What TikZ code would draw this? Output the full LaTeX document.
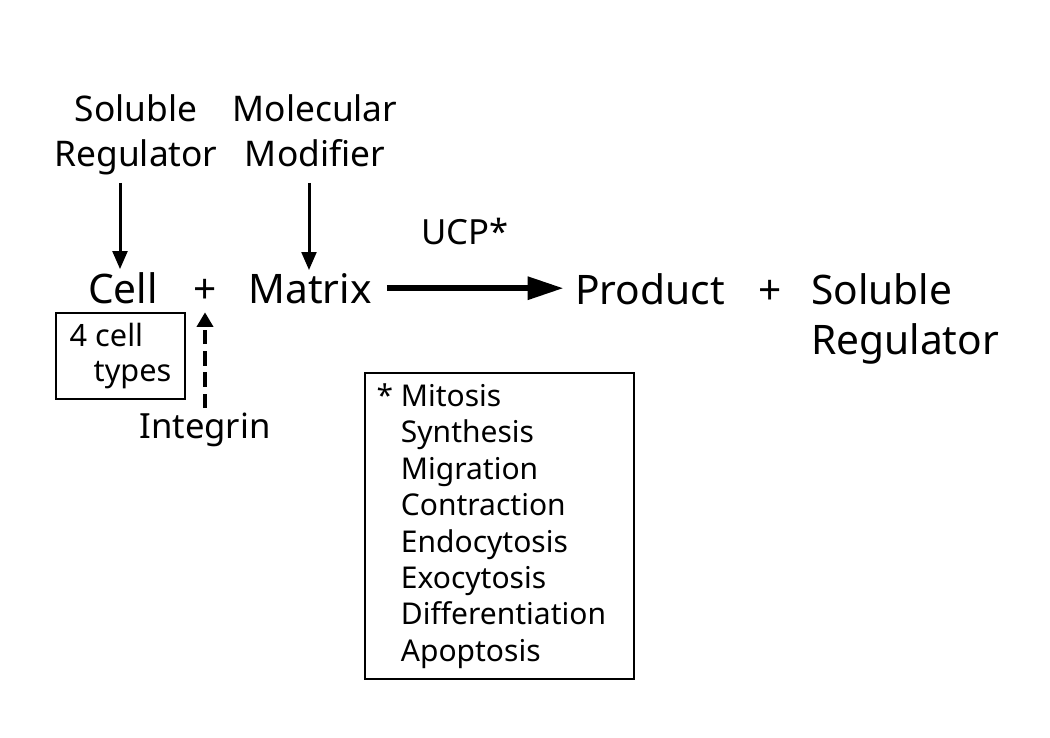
\documentclass[tikz,border=0pt]{standalone}
\usepackage{fontspec}
\setmainfont{Noto Sans}[Ligatures=NoCommon]
\usetikzlibrary{arrows.meta, positioning}

\tikzset{
  term/.style={inner sep=0pt, font=\fontsize{30.5pt}{37.5pt}\selectfont},
  toplbl/.style={inner sep=0pt, align=center, font=\fontsize{26.5pt}{33.75pt}\selectfont},
  midlbl/.style={inner sep=0pt, font=\fontsize{26pt}{30pt}\selectfont},
  framed/.style={draw, line width=0.8pt, inner sep=0pt, align=left},
  push/.style={-{Triangle[length=13.5pt, width=11pt]}, line width=2.25pt},
  react/.style={-{Triangle[length=27pt, width=16.5pt]}, line width=4.5pt},
  bind/.style={-{Triangle[length=11pt, width=12pt]}, line width=3pt, dash pattern=on 11pt off 5pt}
}

\begin{document}
\begin{tikzpicture}[x=0.75pt, y=-0.75pt]
  \useasboundingbox (0,0) rectangle (1050,738);

  \node[term, anchor=base] (cell) at (123,303) {Cell};
  \node[term, anchor=base] (plusA) at (205,303) {+};
  \node[term, anchor=base] (matrix) at (310,303) {Matrix};
  \node[term, anchor=base] (product) at (650,304) {Product};
  \node[term, anchor=base] (plusB) at (770,304) {+};
  \node[term, anchor=base west, align=left] (solregB) at (811,354) {Soluble\\Regulator};

  \node[toplbl, anchor=base] (solregA) at (136,167) {Soluble\\Regulator};
  \node[toplbl, anchor=base] (molmod) at (315,167) {Molecular\\Modifier};
  \node[midlbl, anchor=base] (ucp) at (465,245) {UCP*};
  \node[midlbl, anchor=base] (integrin) at (205,438) {Integrin};

  \node[framed, minimum width=96.75pt, minimum height=64.5pt,
    font=\fontsize{23pt}{26.25pt}\selectfont] (celltypes) at (120.5,356)
    {4 cell\\\hspace*{18pt}types};

  \node[framed, minimum width=201.75pt, minimum height=229.5pt,
    font=\fontsize{22.5pt}{27.3pt}\selectfont] (events) at (499.5,526)
    {\hspace*{6pt}\llap{*\ }Mitosis\\\hspace*{6pt}Synthesis\\\hspace*{6pt}Migration\\\hspace*{6pt}Contraction\\\hspace*{6pt}Endocytosis\\\hspace*{6pt}Exocytosis\\\hspace*{6pt}Differentiation\\\hspace*{6pt}Apoptosis};

  \draw[push, shorten <=12pt, shorten >=2pt] (solregA.base -| 120,0) -- (cell.north -| 120,0);
  \draw[push, shorten <=12pt, shorten >=2pt] (molmod.base -| 309,0) -- (matrix.north -| 309,0);
  \draw[react, shorten <=11.25pt, shorten >=8.5pt] (matrix.east) -- (matrix.east -| product.west);
  \draw[bind, shorten <=3pt, shorten >=6.75pt] (integrin.north) -- (plusA.south);
\end{tikzpicture}
\end{document}
